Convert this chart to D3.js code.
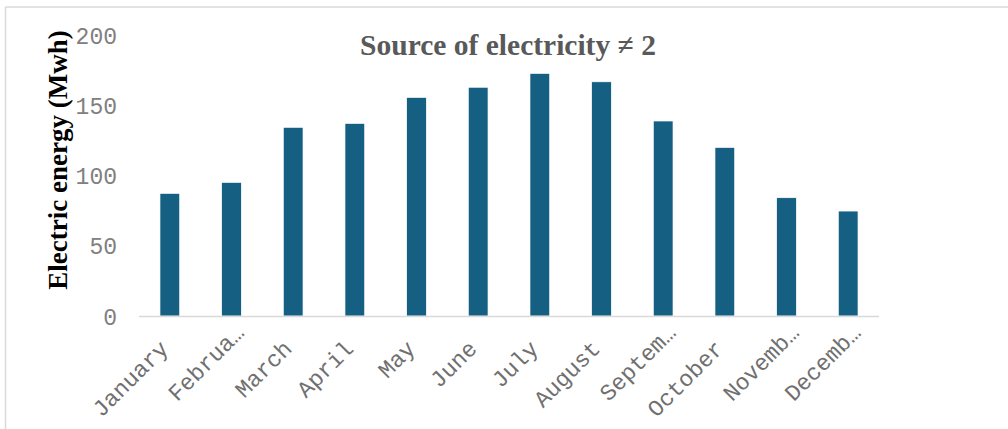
<!DOCTYPE html>
<html><head><meta charset="utf-8">
<script src="https://cdn.jsdelivr.net/npm/d3@7"></script>
<style>html,body{margin:0;padding:0;background:#fff;}</style>
</head><body>
<svg id="c" width="1008" height="429"></svg>
<script>
const categories = ["January","Februa…","March","April","May","June","July","August","Septem…","October","Novemb…","Decemb…"];
const values = [87.3, 95.1, 134.3, 137.1, 155.6, 162.8, 172.7, 166.7, 138.8, 120.0, 84.2, 74.7];
const yTicks = [0, 50, 100, 150, 200];
const title = "Source of electricity \u2260 2";
const yTitle = "Electric energy (Mwh)";

const svg = d3.select("#c");
// frame
svg.append("line").attr("x1",5.5).attr("x2",1008).attr("y1",7).attr("y2",7).attr("stroke","#d9d9d9").attr("stroke-width",1.5);
svg.append("line").attr("x1",5.5).attr("x2",5.5).attr("y1",7).attr("y2",429).attr("stroke","#d9d9d9").attr("stroke-width",1.5);

const x = d3.scaleBand().domain(categories).range([139, 879]).paddingInner(0.68).paddingOuter(0.34);
const y = d3.scaleLinear().domain([0, 200]).range([316, 35]);

svg.selectAll("rect.bar").data(values).enter().append("rect")
  .attr("class","bar")
  .attr("x",(d,i)=>x(categories[i]))
  .attr("width",x.bandwidth())
  .attr("y",d=>y(d))
  .attr("height",d=>y(0)-y(d))
  .attr("fill","#156082")
  .attr("stroke","#ffffff").attr("stroke-width",0.7);

// x axis line
svg.append("line").attr("x1",139).attr("x2",879).attr("y1",y(0)+0.5).attr("y2",y(0)+0.5).attr("stroke","#d9d9d9").attr("stroke-width",1.5);

// y axis tick labels
const yAxis = d3.axisLeft(y).tickValues(yTicks).tickSize(0).tickPadding(0);
const gy = svg.append("g").attr("transform","translate(117,0)").call(yAxis);
gy.select(".domain").remove();
gy.selectAll("text").attr("font-family","'Liberation Mono', 'Courier New', monospace").attr("font-size","23px").attr("fill","#808080").attr("dy","0.35em");

// x axis labels
const xAxis = d3.axisBottom(x).tickSize(0).tickPadding(0);
const gx = svg.append("g").attr("transform",`translate(0,${y(0)})`).call(xAxis);
gx.select(".domain").remove();
gx.selectAll("text")
  .attr("font-family","'Liberation Mono', 'Courier New', monospace")
  .attr("font-size","23px").attr("fill","#707070")
  .attr("text-anchor","end")
  .attr("dy","0")
  .attr("y",0).attr("x",0)
  .attr("transform",d => d.endsWith("…") ? "translate(14,18) rotate(-45)" : "translate(0,34) rotate(-45)");

// title
svg.append("text").attr("x",508).attr("y",55).attr("text-anchor","middle")
  .attr("font-family","'Liberation Serif','Times New Roman',serif").attr("font-weight","bold")
  .attr("font-size","29.5px").attr("fill","#595959").text(title);

// y title
svg.append("text").attr("transform","translate(67,160) rotate(-90)").attr("text-anchor","middle")
  .attr("font-family","'Liberation Serif','Times New Roman',serif").attr("font-weight","bold")
  .attr("font-size","27px").attr("fill","#000").text(yTitle);
</script>
</body></html>
